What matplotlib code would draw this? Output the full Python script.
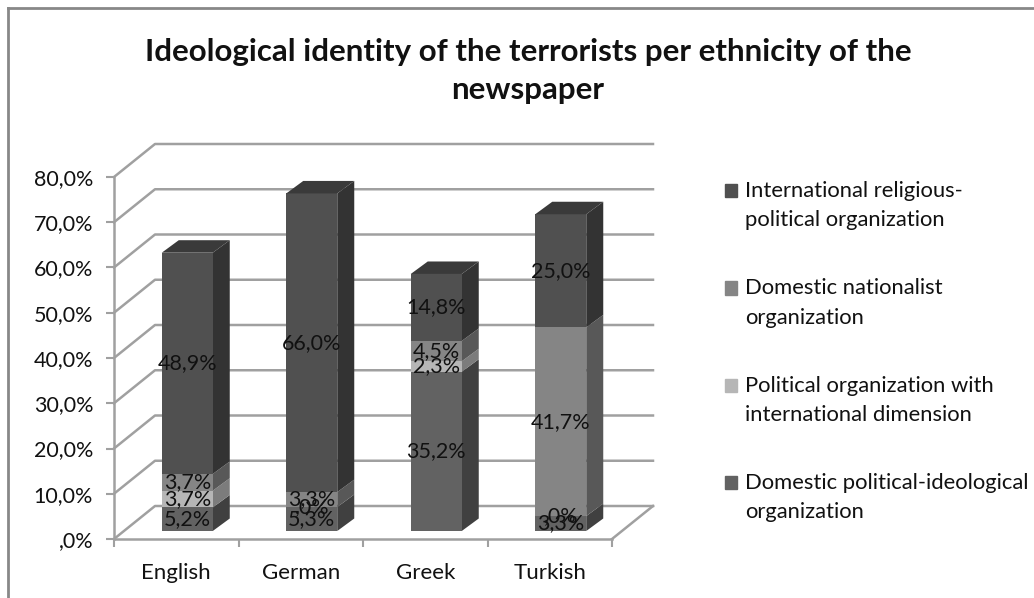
import numpy as np
import matplotlib
matplotlib.use('Agg')
import matplotlib.pyplot as plt
from matplotlib.patches import Patch, Rectangle
from matplotlib.lines import Line2D
from matplotlib.legend_handler import HandlerPatch

plt.rcParams['font.family'] = ['Lato', 'DejaVu Sans']

# data
categories = ['English', 'German', 'Greek', 'Turkish']
domestic_political = [5.2, 5.3, 35.2, 3.3]
political_international = [3.7, 0.0, 2.3, 0.0]
domestic_nationalist = [3.7, 3.3, 4.5, 41.7]
international_religious = [48.9, 66.0, 14.8, 25.0]
y_ticks = [0, 10, 20, 30, 40, 50, 60, 70, 80]

series = [domestic_political, political_international, domestic_nationalist, international_religious]
names = ['Domestic political-ideological\norganization',
         'Political organization with\ninternational dimension',
         'Domestic nationalist\norganization',
         'International religious-\npolitical organization']
front_cols = ['#626262', '#b6b6b6', '#858585', '#505050']
side_cols = ['#404040', '#7c7c7c', '#585858', '#333333']
top_col = '#3a3a3a'

W, H = 1034, 598
fig = plt.figure(figsize=(W / 100, H / 100), dpi=100)
ax = fig.add_axes([114 / W, (H - 539) / H, 498 / W, 362 / H])
ax.set_xlim(-0.5, 3.5)
ax.set_ylim(0, 80)
ax.patch.set_visible(False)

# depth of the 3d box and of the bars, in data units
px_x = 4 / 498
px_y = 80 / 362
wall_dx, wall_dy = 41 * px_x, 33 * px_y
base_dx, base_dy = 11 * px_x, 8 * px_y
bar_dx, bar_dy = 17 * px_x, 12.5 * px_y
bar_w = 51 * px_x

grid = '#a0a0a0'
for v in y_ticks:
    ax.plot([-0.5, -0.5 + wall_dx, 3.5 + wall_dx], [v, v + wall_dy, v + wall_dy],
            color=grid, lw=1.8, clip_on=False, zorder=1)
ax.plot([3.5, 3.5 + wall_dx], [0, wall_dy], color=grid, lw=1.8, clip_on=False, zorder=1)

xpos = np.arange(len(categories))
bottom = np.zeros(len(categories))
for vals, fc, sc in zip(series, front_cols, side_cols):
    vals = np.array(vals)
    for x, b, h in zip(xpos, bottom, vals):
        if h <= 0:
            continue
        x1 = x + base_dx + bar_w / 2
        y0 = b + base_dy
        ax.fill([x1, x1 + bar_dx, x1 + bar_dx, x1],
                [y0, y0 + bar_dy, y0 + h + bar_dy, y0 + h],
                color=sc, lw=0, clip_on=False, zorder=3)
    ax.bar(xpos + base_dx, vals, bar_w, bottom=bottom + base_dy, color=fc, lw=0, zorder=3, clip_on=False)
    bottom = bottom + vals

# bar tops
for x, t in zip(xpos, bottom):
    x0 = x + base_dx - bar_w / 2
    x1 = x0 + bar_w
    y0 = t + base_dy
    ax.fill([x0, x1, x1 + bar_dx, x0 + bar_dx], [y0, y0, y0 + bar_dy, y0 + bar_dy],
            color=top_col, lw=0, clip_on=False, zorder=3)

# value labels
def fmt(v):
    s = f'{v:.1f}%'.replace('.', ',')
    return s[1:] if v == 0 else s

bottom = np.zeros(len(categories))
for vals in series:
    for x, b, h in zip(xpos, bottom, vals):
        ax.text(x + base_dx, b + base_dy + h / 2, fmt(h), ha='center', va='center',
                fontsize=15.5, color='#111111', zorder=5, clip_on=False)
    bottom = bottom + np.array(vals)

# axes
for s in ['top', 'right']:
    ax.spines[s].set_visible(False)
for s in ['left', 'bottom']:
    ax.spines[s].set_color(grid)
    ax.spines[s].set_linewidth(1.8)
ax.set_yticks(y_ticks)
ax.set_yticklabels([fmt(v) for v in y_ticks], fontsize=15.5, color='#111111')
ax.set_xticks(np.arange(-0.5, 4, 1))
ax.set_xticklabels([])
ax.set_xticks(xpos, minor=True)
ax.set_xticklabels(categories, minor=True, fontsize=16, color='#111111')
ax.tick_params(axis='both', which='major', color=grid, width=1.5, length=5.5)
ax.tick_params(axis='x', which='minor', length=0, pad=17.5)
ax.tick_params(axis='y', pad=9.5)

fig.text(528 / W, 1 - 71 / H, 'Ideological identity of the terrorists per ethnicity of the\nnewspaper',
         ha='center', va='center', fontsize=22.5, fontweight='bold', color='#111111', linespacing=1.4)

# swatch sits on the first line of each entry
def first_line_patch(legend, orig_handle, xdescent, ydescent, width, height, fontsize):
    return Rectangle((-xdescent, -ydescent + 11), width, height)

handles = [Patch(color=c) for c in front_cols[::-1]]
leg = fig.legend(handles, names[::-1], loc='upper left', bbox_to_anchor=(725 / W, 1 - 181 / H),
                 frameon=False, fontsize=15.8, handlelength=0.55, handleheight=0.55,
                 handletextpad=0.36, labelspacing=2.2, borderpad=0, borderaxespad=0,
                 labelcolor='#111111',
                 handler_map={Patch: HandlerPatch(patch_func=first_line_patch)})
for t in leg.get_texts():
    t.set_linespacing(1.57)

# chart frame
frame = '#888888'
fig.add_artist(Line2D([8 / W, 8 / W], [0, 1 - 8 / H], color=frame, lw=2))
fig.add_artist(Line2D([8 / W, 1], [1 - 8 / H, 1 - 8 / H], color=frame, lw=2))

fig.savefig('out.png', dpi=100)
